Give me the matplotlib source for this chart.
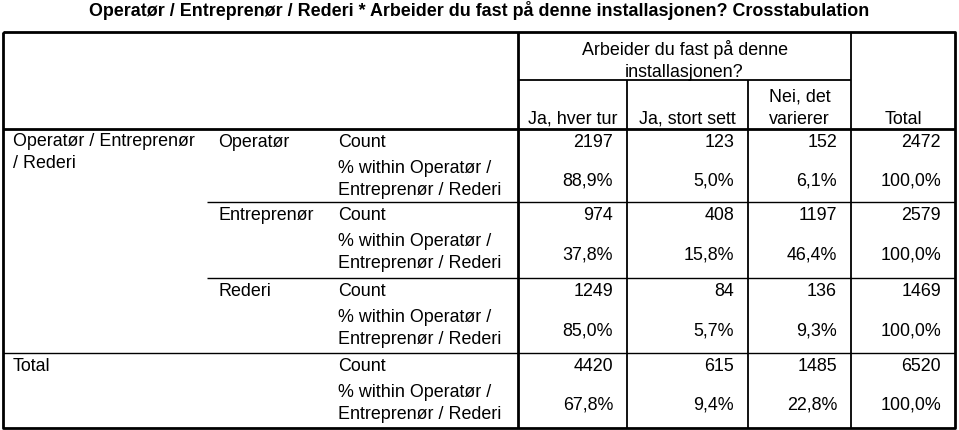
import matplotlib
matplotlib.use('Agg')
import matplotlib.pyplot as plt

title = 'Operatør / Entreprenør / Rederi * Arbeider du fast på denne installasjonen? Crosstabulation'
row_var = ['Operatør / Entreprenør', '/ Rederi']
groups = ['Operatør', 'Entreprenør', 'Rederi', 'Total']
stat_count = 'Count'
stat_pct = ['% within Operatør /', 'Entreprenør / Rederi']
col_var = ['Arbeider du fast på denne', 'installasjonen?']
columns = [['Ja, hver tur'], ['Ja, stort sett'], ['Nei, det', 'varierer'], ['Total']]

counts = [
    [2197, 123, 152, 2472],
    [974, 408, 1197, 2579],
    [1249, 84, 136, 1469],
    [4420, 615, 1485, 6520],
]
pcts = [
    [88.9, 5.0, 6.1, 100.0],
    [37.8, 15.8, 46.4, 100.0],
    [85.0, 5.7, 9.3, 100.0],
    [67.8, 9.4, 22.8, 100.0],
]

plt.rcParams['font.family'] = ['Liberation Sans', 'DejaVu Sans']
fs = 12.9
lh = 22  # line height in px

fig = plt.figure(figsize=(9.59, 4.30), dpi=100)
ax = fig.add_axes([0, 0, 1, 1])
ax.set_xlim(0, 959)
ax.set_ylim(430, 0)
ax.axis('off')


def lines(x, y, parts, ha='left'):
    # draw stacked lines, y is baseline of first line
    for i, s in enumerate(parts):
        ax.text(x, y + i * lh, s, ha=ha, va='baseline', fontsize=fs)


# grid geometry (pixels)
left, right, top, bottom = 3, 955, 32, 428
x_stub = 518
col_edges = [518, 627, 748, 851, 955]
head_bottom = 129
group_tops = [129, 202, 278, 353, 428]

ax.text(479, 16, title, ha='center', va='baseline', fontsize=fs, fontweight='bold')

# lines
k = dict(color='black', solid_capstyle='butt')
ax.plot([left, right, right, left, left], [top, top, bottom, bottom, top], lw=2.0, **k)
ax.plot([left, right], [head_bottom, head_bottom], lw=2.0, **k)
ax.plot([x_stub, x_stub], [top, bottom], lw=2.0, **k)
ax.plot([col_edges[1], col_edges[1]], [80, bottom], lw=1.3, **k)
ax.plot([col_edges[2], col_edges[2]], [80, bottom], lw=1.3, **k)
ax.plot([col_edges[3], col_edges[3]], [top, bottom], lw=1.3, **k)
ax.plot([x_stub, col_edges[3]], [80, 80], lw=1.3, **k)
for yy in group_tops[1:3]:
    ax.plot([207, right], [yy, yy], lw=1.0, **k)
ax.plot([left, right], [group_tops[3], group_tops[3]], lw=1.0, **k)

# header text
lines((x_stub + col_edges[3]) / 2, 55, col_var, ha='center')
for i, c in enumerate(columns):
    cx = (col_edges[i] + col_edges[i + 1]) / 2
    lines(cx, 124 - (len(c) - 1) * lh, c, ha='center')

# row headers
lines(13, 146, row_var)
ax.text(13, group_tops[3] + 18, groups[3], ha='left', va='baseline', fontsize=fs)
for g in range(4):
    y0 = group_tops[g]
    if g < 3:
        ax.text(218, y0 + 18, groups[g], ha='left', va='baseline', fontsize=fs)
    ax.text(338, y0 + 18, stat_count, ha='left', va='baseline', fontsize=fs)
    lines(338, y0 + 44, stat_pct)
    for j in range(4):
        xr = col_edges[j + 1] - 14
        ax.text(xr, y0 + 18, str(counts[g][j]), ha='right', va='baseline', fontsize=fs)
        ax.text(xr, y0 + 57, f'{pcts[g][j]:.1f}%'.replace('.', ','),
                ha='right', va='baseline', fontsize=fs)

fig.savefig('out.png', dpi=100)
